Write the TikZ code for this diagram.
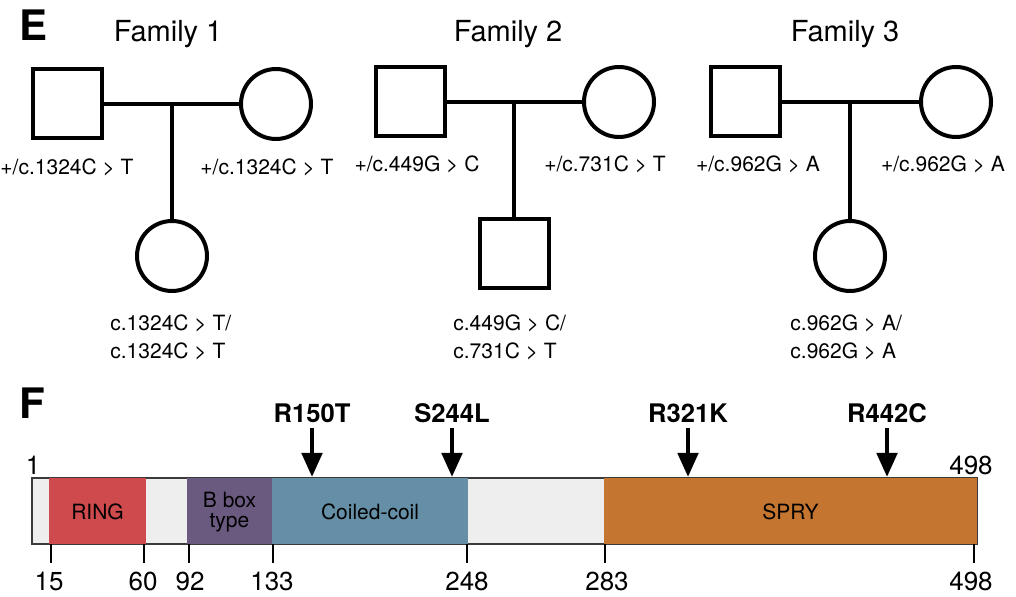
\documentclass[tikz,border=0pt]{standalone}
\usepackage{fontspec}
\setmainfont{TeX Gyre Heros}
\usetikzlibrary{arrows.meta}
\definecolor{ringred}{HTML}{CF4A4D}
\definecolor{bboxpurple}{HTML}{6A5A80}
\definecolor{coilblue}{HTML}{648FA6}
\definecolor{spryorange}{HTML}{C47530}
\definecolor{linkergray}{HTML}{EEEEEE}
\definecolor{outlinegray}{HTML}{3A3A3A}

\begin{document}
\begin{tikzpicture}[x=0.5pt,y=-0.5pt,
  male/.style={draw,line width=2pt,minimum size=34.5pt,inner sep=0pt},
  female/.style={draw,circle,line width=2pt,minimum size=35pt,inner sep=0pt},
  couple/.style={line width=1.6pt},
  geno/.style={font=\fontsize{10.5}{14}\selectfont,inner sep=0pt},
  famtitle/.style={font=\fontsize{14.5}{16}\selectfont,anchor=base,inner sep=0pt},
  panel/.style={font=\fontsize{21}{24}\bfseries,anchor=base west,inner sep=0pt},
  posnum/.style={font=\fontsize{13}{15}\selectfont,anchor=base,inner sep=0pt},
  mut/.style={font=\fontsize{12.8}{15}\bfseries,anchor=base,inner sep=0pt},
  mutarrow/.style={line width=2.4pt,-{Triangle[width=10pt,length=12pt]},shorten <=2pt},
  domtext/.style={font=\fontsize{10.5}{10}\selectfont,align=center,inner sep=0pt}]
\useasboundingbox (0,0) rectangle (1016,597);
% ---- E: pedigrees ----
\node[panel] (E) at (19,41) {E};
\node[famtitle] (t1) at (168,42) {Family 1};
\node[famtitle] (t2) at (508,42) {Family 2};
\node[famtitle] (t3) at (845,42) {Family 3};
% family 1
\node[male] (d1) at (67,104) {};
\node[female] (m1) at (276,104) {};
\node[female] (c1) at (172,256) {};
\coordinate (j1) at (c1.north |- d1.east);
\draw[couple] (d1) -- (m1);
\draw[couple] (j1) -- (c1);
\node[geno] (gd1) at (67,167) {+/c.1324C > T};
\node[geno] (gm1) at (267,167) {+/c.1324C > T};
\node[geno,align=left,anchor=west] (gc1) at (110,337) {c.1324C > T/\\c.1324C > T};
% family 2
\node[male] (d2) at (410,102) {};
\node[female] (m2) at (619,102) {};
\node[male] (c2) at (514,254) {};
\coordinate (j2) at (c2.north |- d2.east);
\draw[couple] (d2) -- (m2);
\draw[couple] (j2) -- (c2);
\node[geno] (gd2) at (417,164) {+/c.449G > C};
\node[geno] (gm2) at (605,164) {+/c.731C > T};
\node[geno,align=left,anchor=west] (gc2) at (453,337) {c.449G > C/\\c.731C > T};
% family 3
\node[male] (d3) at (745,102) {};
\node[female] (m3) at (956,102) {};
\node[female] (c3) at (850,256) {};
\coordinate (j3) at (c3.north |- d3.east);
\draw[couple] (d3) -- (m3);
\draw[couple] (j3) -- (c3);
\node[geno] (gd3) at (758,164) {+/c.962G > A};
\node[geno] (gm3) at (943,164) {+/c.962G > A};
\node[geno,align=left,anchor=west] (gc3) at (790,337) {c.962G > A/\\c.962G > A};
% ---- F: protein domains ----
\node[panel] (F) at (19,419) {F};
\draw[line width=1pt,draw=outlinegray,fill=linkergray] (32,478) rectangle (977,544);
\foreach \a/\b/\col/\name in {49/146/ringred/RING,187/272/bboxpurple/{B box\\type},
  272/468/coilblue/Coiled-coil,604/977/spryorange/SPRY} {
  \fill[\col] (\a,478) rectangle (\b,544);
  \node[domtext] at ({(\a+\b)/2},512) {\name};
}
\foreach \x in {51,144,189,273,467,605,974} {
  \draw[line width=1.2pt] (\x,544) -- (\x,563);
}
\foreach \x/\l in {49/15,143/60,190/92,272/133,467/248,607/283,971/498}
  \node[posnum] at (\x,590) {\l};
\node[posnum] (start) at (33,475) {1};
\node[posnum] (stop) at (971,475) {498};
\foreach \x/\m in {312/R150T,452/S244L,688/R321K,887/R442C} {
  \node[mut] (m\m) at (\x,423) {\m};
  \coordinate (t\m) at (\x,477);
  \draw[mutarrow] (m\m.south) -- (t\m);
}
\end{tikzpicture}
\end{document}
